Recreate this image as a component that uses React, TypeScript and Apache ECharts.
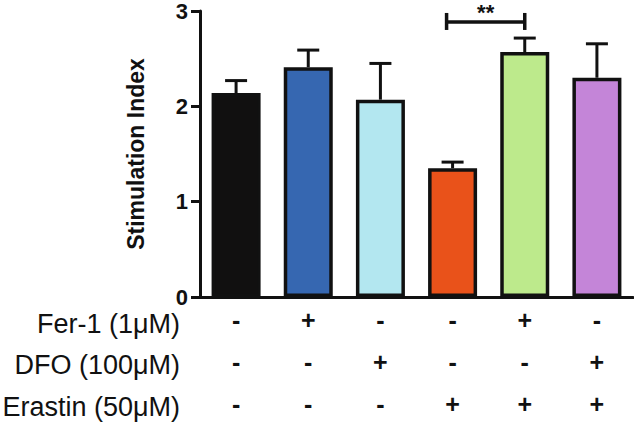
import React, { useEffect, useRef } from "react";
import * as echarts from "echarts";

const categories = ["Control", "Fer-1", "DFO", "Erastin", "Erastin+Fer-1", "Erastin+DFO"];
const means = [2.14, 2.41, 2.07, 1.35, 2.57, 2.3];
const errors = [0.13, 0.18, 0.38, 0.065, 0.146, 0.356];
const barColors = ["#111010", "#3667b1", "#b3e7f0", "#e9521a", "#bdea8c", "#c485d8"];
const fer1 = ["-", "+", "-", "-", "+", "-"];
const dfo = ["-", "-", "+", "-", "-", "+"];
const erastin = ["-", "-", "-", "+", "+", "+"];
const rowLabels = ["Fer-1 (1\u03bcM)", "DFO (100\u03bcM)", "Erastin (50\u03bcM)"];
const yTicks = [0, 1, 2, 3];
const significance = [[3, 4, 2.885]];
const sigLabel = "**";

const FONT = "Liberation Sans, Arial, sans-serif";
const INK = "#111";

export default function App() {
  const ref = useRef<HTMLDivElement>(null);
  useEffect(() => {
    if (!ref.current) return;
    const chart = echarts.init(ref.current, null, { renderer: "svg" });
    const rowY = [324, 365, 407];
    chart.setOption({
      animation: false,
      grid: { left: 200, right: 1, top: 11, bottom: 126, containLabel: false },
      xAxis: {
        type: "category",
        data: categories,
        axisLine: { show: true, lineStyle: { color: INK, width: 3 } },
        axisTick: { show: false },
        axisLabel: {
          interval: 0,
          margin: 2,
          fontFamily: FONT,
          fontSize: 25,
          fontWeight: "bold",
          lineHeight: 42,
          color: INK,
          formatter: (_v: string, i: number) => `${fer1[i]}\n${dfo[i]}\n${erastin[i]}`,
        },
      },
      yAxis: {
        type: "value",
        min: yTicks[0],
        max: yTicks[yTicks.length - 1],
        interval: 1,
        name: "Stimulation Index",
        nameLocation: "middle",
        nameGap: 53,
        nameTextStyle: { fontFamily: FONT, fontSize: 23, fontWeight: "bold", color: INK },
        axisLine: { show: true, lineStyle: { color: INK, width: 3 } },
        axisTick: { show: true, length: 9, lineStyle: { color: INK, width: 3 } },
        axisLabel: { margin: 12, fontFamily: FONT, fontSize: 22, fontWeight: "bold", color: INK },
        splitLine: { show: false },
      },
      graphic: rowLabels.map((t, i) => ({
        type: "text",
        x: 180,
        y: rowY[i],
        style: {
          text: t,
          align: "right",
          verticalAlign: "middle",
          fontFamily: FONT,
          fontSize: 27,
          fill: INK,
        },
      })),
      series: [
        {
          type: "bar",
          z: 3,
          barWidth: 49,
          data: means.map((v, i) => ({
            value: v,
            itemStyle: { color: barColors[i], borderColor: INK, borderWidth: 3.5 },
          })),
        },
        {
          type: "custom",
          z: 2,
          data: means.map((m, i) => [i, m, errors[i]]),
          renderItem: (_p: any, api: any) => {
            const base = api.coord([api.value(0), api.value(1)]);
            const top = api.coord([api.value(0), api.value(1) + api.value(2)]);
            const st = { stroke: INK, lineWidth: 3 };
            return {
              type: "group",
              children: [
                { type: "line", shape: { x1: base[0], y1: base[1], x2: base[0], y2: top[1] }, style: st },
                { type: "line", shape: { x1: base[0] - 11, y1: top[1], x2: base[0] + 11, y2: top[1] }, style: st },
              ],
            };
          },
        },
        {
          type: "custom",
          z: 4,
          clip: false,
          data: significance,
          renderItem: (_p: any, api: any) => {
            const a = api.coord([api.value(0), api.value(2)]);
            const b = api.coord([api.value(1), api.value(2)]);
            const x1 = a[0] - 6;
            const x2 = b[0];
            const y = a[1];
            const st = { stroke: INK, lineWidth: 3.5 };
            return {
              type: "group",
              children: [
                { type: "line", shape: { x1, y1: y, x2, y2: y }, style: st },
                { type: "line", shape: { x1, y1: y - 9, x2: x1, y2: y + 8 }, style: st },
                { type: "line", shape: { x1: x2, y1: y - 9, x2, y2: y + 8 }, style: st },
                {
                  type: "text",
                  style: {
                    text: sigLabel,
                    x: (x1 + x2) / 2,
                    y: y - 20,
                    align: "center",
                    verticalAlign: "top",
                    fontFamily: FONT,
                    fontSize: 22,
                    fontWeight: "bold",
                    fill: INK,
                  },
                },
              ],
            };
          },
        },
      ],
    });
    return () => chart.dispose();
  }, []);
  return (
    <div
      ref={ref}
      style={{ position: "fixed", left: 0, top: 0, width: 634, height: 425, background: "#fff" }}
    />
  );
}
